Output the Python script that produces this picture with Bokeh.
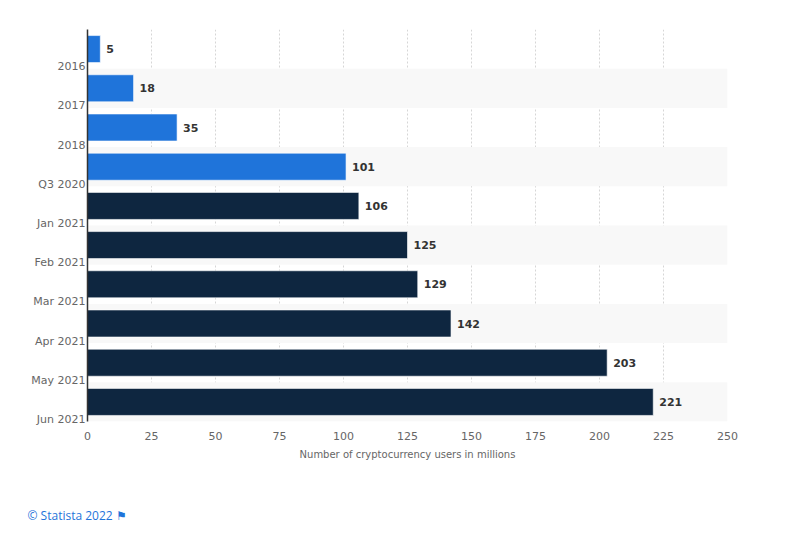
from bokeh.plotting import figure
from bokeh.models import (ColumnDataSource, Range1d, FixedTicker, BoxAnnotation, LabelSet, Title)
from bokeh.core.properties import value
from bokeh.embed import file_html
from bokeh.resources import INLINE

categories = ["2016", "2017", "2018", "Q3 2020", "Jan 2021", "Feb 2021",
              "Mar 2021", "Apr 2021", "May 2021", "Jun 2021"]
values = [5, 18, 35, 101, 106, 125, 129, 142, 203, 221]
bar_colors = ["#1f74da"] * 4 + ["#0e2640"] * 6
x_ticks = [0, 25, 50, 75, 100, 125, 150, 175, 200, 225, 250]

idx = list(range(len(categories)))
src = ColumnDataSource(dict(y=idx, v=values, c=bar_colors,
                            t=[str(v) for v in values]))

p = figure(width=784, height=525, output_backend="svg", toolbar_location=None,
           x_range=Range1d(0, 250), y_range=Range1d(len(categories) - 0.5, -0.5),
           frame_width=640, frame_height=392,
           min_border_left=87, min_border_top=29, min_border_right=57, min_border_bottom=104)
p.outline_line_color = None
p.background_fill_color = "white"
p.border_fill_color = "white"

# alternating band shading
for i in idx:
    if i % 2 == 1:
        p.add_layout(BoxAnnotation(top=i - 0.5, bottom=i + 0.5, fill_color="#f8f8f8",
                                   fill_alpha=1, line_color=None, level="underlay"))

p.hbar(y="y", right="v", left=0, height=0.69, color="c", line_color="white",
       line_width=0.6, source=src)

p.add_layout(LabelSet(x="v", y="y", text="t", source=src, x_offset=6,
                      text_baseline="middle", text_font=value("DejaVu Sans"),
                      text_font_size="11px", text_font_style="bold",
                      text_color="#333333"))

# axes
p.xaxis.ticker = FixedTicker(ticks=x_ticks)
p.xaxis.axis_line_color = None
p.xaxis.major_tick_line_color = None
p.xaxis.minor_tick_line_color = None
p.xaxis.major_tick_out = 0
p.xaxis.major_label_text_font = "DejaVu Sans"
p.xaxis.major_label_text_font_size = "11px"
p.xaxis.major_label_text_color = "#666666"
p.xaxis.major_label_standoff = 10
p.xaxis.axis_label = "Number of cryptocurrency users in millions"
p.xaxis.axis_label_text_font = "DejaVu Sans"
p.xaxis.axis_label_text_font_size = "10px"
p.xaxis.axis_label_text_font_style = "normal"
p.xaxis.axis_label_text_color = "#666666"
p.xaxis.axis_label_standoff = 6

p.yaxis.ticker = FixedTicker(ticks=[i + 0.45 for i in idx])
p.yaxis.major_label_overrides = {i + 0.45: c for i, c in zip(idx, categories)}
p.yaxis.axis_line_color = "#333333"
p.yaxis.axis_line_width = 1.5
p.yaxis.major_tick_line_color = None
p.yaxis.minor_tick_line_color = None
p.yaxis.major_tick_out = 0
p.yaxis.major_label_text_font = "DejaVu Sans"
p.yaxis.major_label_text_font_size = "11px"
p.yaxis.major_label_text_color = "#666666"
p.yaxis.major_label_standoff = 2

p.xgrid.grid_line_color = "#d6d6d6"
p.xgrid.grid_line_dash = "2 2"
p.xgrid.ticker = FixedTicker(ticks=x_ticks)
p.ygrid.grid_line_color = None

p.add_layout(Title(text="© Statista 2022  ⚑", align="left", offset=-60, standoff=84,
                   text_font="Open Sans", text_font_size="12px",
                   text_font_style="normal", text_color="#1f74da"), "below")

open("out.html", "w").write(file_html(p, INLINE))
